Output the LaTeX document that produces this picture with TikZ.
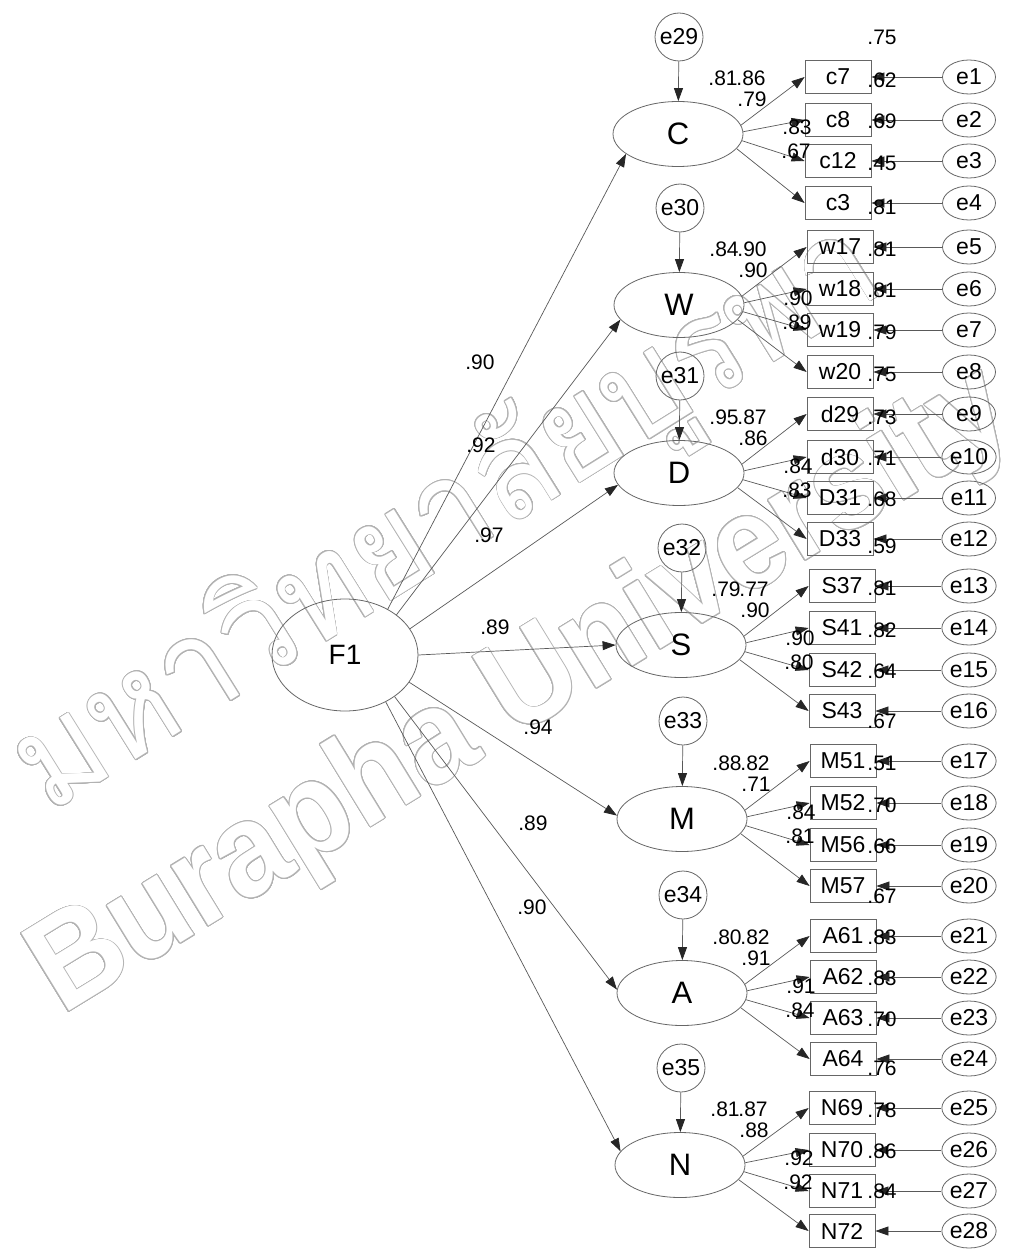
\documentclass[tikz,border=0pt]{standalone}
\usepackage{fontspec}
\setmainfont{Liberation Sans}
\newfontfamily\thaiwm[Script=Thai]{Loma}
\newfontfamily\latwm{Liberation Sans}
\usepackage{contour}
\contourlength{0.9pt}
\contournumber{24}
\usetikzlibrary{shapes.geometric,arrows.meta}
\newcommand\nfnt{\fontsize{21}{21}\selectfont}
\newcommand\lblfnt{\fontsize{23}{23}\selectfont}
\newcommand\latfnt{\fontsize{31}{31}\selectfont}
\newcommand\ffnt{\fontsize{28}{28}\selectfont}
\begin{document}
\begin{tikzpicture}[x=1pt,y=-1pt,
  lat/.style={ellipse,draw=black!60,line width=0.8pt,minimum width=130pt,minimum height=65pt,inner sep=0pt,font=\latfnt},
  res/.style={circle,draw=black!60,line width=0.8pt,minimum size=48pt,inner sep=0pt,font=\lblfnt},
  err/.style={ellipse,draw=black!60,line width=0.8pt,minimum width=53pt,minimum height=34pt,inner sep=0pt,font=\lblfnt},
  ind/.style={rectangle,draw=black!60,line width=0.8pt,minimum width=66pt,minimum height=33pt,inner sep=0pt,font=\lblfnt},
  num/.style={inner sep=0pt,font=\nfnt},
  arr/.style={draw=black!65,line width=0.7pt,-{Triangle[length=13pt,width=9pt,fill=black!85,color=black!85]}}
]
\fill[white] (0,0) rectangle (1023,1257);
\useasboundingbox (0,0) rectangle (1023,1257);
% watermark
\node[rotate=32,anchor=base west,inner sep=0pt,xscale=0.93] (wmth) at (48,815)
  {\fontsize{136}{136}\selectfont\thaiwm\contour{black!30}{\textcolor{white}{มหาวิทยาลัยบูรพา}}};
\node[rotate=31.5,anchor=base west,inner sep=0pt,xscale=0.92] (wmen) at (62,1016)
  {\fontsize{133}{133}\selectfont\latwm\bfseries\contour{black!30}{\textcolor{white}{Burapha University}}};
% general factor
\node[lat,minimum width=146pt,minimum height=112pt,font=\ffnt] (F1) at (345,655) {F1};
% indicators with their errors and squared multiple correlations
\foreach \k/\lab/\px/\py/\rsq in {
 1/c7/838/77/.75, 2/c8/838/120/.62, 3/c12/838/161/.69, 4/c3/838/203/.45,
 5/w17/840/247/.81, 6/w18/840/289/.81, 7/w19/840/330/.81, 8/w20/840/372/.79,
 9/d29/840/414/.75, 10/d30/840/457/.73, 11/D31/840/498/.71, 12/D33/840/539/.68,
 13/S37/842/586/.59, 14/S41/842/628/.81, 15/S42/842/670/.82, 16/S43/842/711/.64,
 17/M51/843/761/.67, 18/M52/843/803/.51, 19/M56/843/845/.70, 20/M57/843/886/.66,
 21/A61/843/936/.67, 22/A62/843/977/.83, 23/A63/843/1018/.83, 24/A64/843/1059/.70,
 25/N69/842/1108/.76, 26/N70/842/1150/.78, 27/N71/842/1191/.86, 28/N72/842/1231/.84}{
  \node[ind] (i\k) at (\px,\py) {\lab};
  \node[err] (r\k) at (969,\py) {e\k};
  \draw[arr] (r\k) -- (i\k);
  \node[num] (q\k) at (882,\py-40) {\rsq};
}
% first-order factors
\foreach \L/\px/\py/\ec/\ey/\rr/\la/\lb/\lc/\ld/\f/\sa/\ea in {
 C/678/134/e29/37/.81/.86/.79/.83/.67/1/47.5/201,
 W/679/305/e30/208/.84/.90/.90/.90/.89/5/38.6/194.5,
 D/679/473/e31/376/.95/.87/.86/.84/.83/9/22.7/191,
 S/681/645/e32/548/.79/.77/.90/.90/.80/13/0/180,
 M/682/819/e33/721/.88/.82/.71/.84/.81/17/-23.4/177,
 A/682/993/e34/895/.80/.82/.91/.91/.84/21/-40/177,
 N/680/1165/e35/1068/.81/.87/.88/.92/.92/25/-49/167}{
  \pgfmathtruncatemacro\ia{\f}
  \pgfmathtruncatemacro\ib{\f+1}
  \pgfmathtruncatemacro\ic{\f+2}
  \pgfmathtruncatemacro\id{\f+3}
  \node[lat] (\L) at (\px,\py) {\L};
  \node[res] (\ec) at (\px+1,\ey) {\ec};
  \draw[arr] (\ec) -- (\L);
  \draw[arr] (F1.\sa) -- (\L.\ea);
  \draw[arr] (\L.8) -- (i\ia.west);
  \draw[arr] (\L.2) -- (i\ib.west);
  \draw[arr] (\L.-6) -- (i\ic.west);
  \draw[arr] (\L.-14) -- (i\id.west);
  \node[num] (rr\L) at (\px+45,\py-56) {\rr};
  \node[num] (la\L) at (\px+73,\py-56) {\la};
  \node[num] (lb\L) at (\px+74,\py-35) {\lb};
  \node[num] (lc\L) at (\px+119,\py-7) {\lc};
  \node[num] (ld\L) at (\px+118,\py+17) {\ld};
}
% second-order loadings
\node[num] (g1) at (480,362) {.90};
\node[num] (g2) at (481,445) {.92};
\node[num] (g3) at (489,535) {.97};
\node[num] (g4) at (495,627) {.89};
\node[num] (g5) at (538,727) {.94};
\node[num] (g6) at (533,823) {.89};
\node[num] (g7) at (532,907) {.90};
\end{tikzpicture}
\end{document}
